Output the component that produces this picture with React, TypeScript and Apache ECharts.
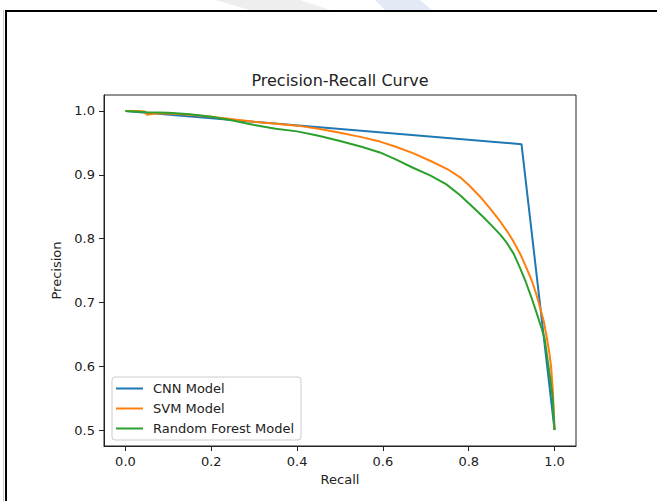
import React, { useEffect, useRef } from "react";
import * as echarts from "echarts";

const cnnRecall = [0.0, 0.923, 1.0];
const cnnPrecision = [1.0, 0.948, 0.5];

const svmRecall = [0.0, 0.03, 0.045, 0.05, 0.07, 0.1, 0.15, 0.2, 0.25, 0.3, 0.35, 0.4, 0.45, 0.5, 0.55, 0.593, 0.63, 0.67, 0.71, 0.75, 0.78, 0.8, 0.826, 0.85, 0.872, 0.89, 0.903, 0.92, 0.934, 0.947, 0.957, 0.967, 0.975, 0.982, 0.988, 0.992, 0.996, 1.0];
const svmPrecision = [1.0, 1.0, 0.999, 0.994, 0.996, 0.996, 0.994, 0.991, 0.987, 0.983, 0.98, 0.977, 0.972, 0.966, 0.959, 0.952, 0.944, 0.934, 0.922, 0.909, 0.896, 0.884, 0.866, 0.847, 0.828, 0.811, 0.797, 0.776, 0.755, 0.734, 0.714, 0.69, 0.67, 0.645, 0.62, 0.599, 0.562, 0.5];

const rfRecall = [0.0, 0.05, 0.1, 0.15, 0.2, 0.25, 0.3, 0.35, 0.4, 0.45, 0.5, 0.55, 0.593, 0.63, 0.67, 0.71, 0.748, 0.78, 0.81, 0.835, 0.857, 0.875, 0.888, 0.905, 0.919, 0.933, 0.946, 0.958, 0.969, 0.977, 0.984, 0.99, 0.996, 1.0];
const rfPrecision = [1.0, 0.998, 0.997, 0.995, 0.991, 0.985, 0.978, 0.972, 0.968, 0.961, 0.953, 0.944, 0.935, 0.924, 0.911, 0.899, 0.885, 0.868, 0.849, 0.833, 0.818, 0.805, 0.794, 0.776, 0.755, 0.732, 0.708, 0.684, 0.661, 0.643, 0.609, 0.58, 0.547, 0.5];

const xTicks = [0.0, 0.2, 0.4, 0.6, 0.8, 1.0];
const yTicks = [0.5, 0.6, 0.7, 0.8, 0.9, 1.0];

const seriesNames = ["CNN Model", "SVM Model", "Random Forest Model"];
const colors = ["#1f77b4", "#ff7f0e", "#2ca02c"];

const pairs = (xs: number[], ys: number[]) => xs.map((x, i) => [x, ys[i]]);

export default function App() {
  const ref = useRef<HTMLDivElement>(null);
  useEffect(() => {
    document.body.style.margin = "0";
    const chart = echarts.init(ref.current!, null, { renderer: "svg" });
    const font = "DejaVu Sans";
    const txt = "#222";
    const axisCommon = {
      type: "value" as const,
      splitLine: { show: false },
      axisLine: { show: true, onZero: false, lineStyle: { color: "#222", width: 1 } },
      axisTick: { show: true, inside: false, length: 5, lineStyle: { color: "#222", width: 1 } },
      axisLabel: { color: txt, fontFamily: font, fontSize: 13, margin: 9, formatter: (v: number) => v.toFixed(1) },
      nameTextStyle: { color: txt, fontFamily: font, fontSize: 13 },
    };
    chart.setOption({
      animation: false,
      backgroundColor: "#ffffff",
      color: colors,
      title: {
        text: "Precision-Recall Curve",
        left: 340,
        top: 72,
        padding: 0,
        textAlign: "center",
        textStyle: { color: txt, fontFamily: font, fontSize: 16, fontWeight: "normal" },
      },
      grid: { left: 104, top: 95, right: 81, bottom: 55, show: true, borderColor: "#222", borderWidth: 1, backgroundColor: "transparent" },
      xAxis: {
        ...axisCommon,
        min: -0.05,
        max: 1.05,
        name: "Recall",
        nameLocation: "middle",
        nameGap: 25,
        axisTick: { ...axisCommon.axisTick, customValues: xTicks },
        axisLabel: { ...axisCommon.axisLabel, customValues: xTicks },
      },
      yAxis: {
        ...axisCommon,
        min: 0.475,
        max: 1.025,
        name: "Precision",
        nameLocation: "middle",
        nameGap: 31,
        axisTick: { ...axisCommon.axisTick, customValues: yTicks },
        axisLabel: { ...axisCommon.axisLabel, customValues: yTicks },
      },
      legend: {
        orient: "vertical",
        left: 112,
        top: 377,
        icon: "rect",
        itemWidth: 27,
        itemHeight: 2,
        itemGap: 5,
        padding: [4, 7, 4, 4],
        backgroundColor: "rgba(255,255,255,0.8)",
        borderColor: "#cccccc",
        borderWidth: 1,
        borderRadius: 3,
        textStyle: { color: txt, fontFamily: font, fontSize: 13, lineHeight: 15, padding: [0, 0, 0, 5] },
        data: seriesNames,
      },
      series: [
        { name: seriesNames[0], type: "line", data: pairs(cnnRecall, cnnPrecision), showSymbol: false, symbol: "none", lineStyle: { width: 2, color: colors[0] }, itemStyle: { color: colors[0] } },
        { name: seriesNames[1], type: "line", data: pairs(svmRecall, svmPrecision), showSymbol: false, symbol: "none", lineStyle: { width: 2, color: colors[1] }, itemStyle: { color: colors[1] } },
        { name: seriesNames[2], type: "line", data: pairs(rfRecall, rfPrecision), showSymbol: false, symbol: "none", lineStyle: { width: 2, color: colors[2] }, itemStyle: { color: colors[2] } },
      ],
      graphic: [
        { type: "polygon", shape: { points: [[215, 0], [300, 0], [330, 10], [250, 10]] }, style: { fill: "#eeeeee" }, silent: true },
        { type: "polygon", shape: { points: [[375, 0], [420, 0], [432, 10], [385, 10]] }, style: { fill: "#e3eaf6" }, silent: true },
        { type: "rect", shape: { x: 5, y: 10, width: 652, height: 2 }, style: { fill: "#000" }, silent: true },
        { type: "rect", shape: { x: 5, y: 10, width: 2, height: 491 }, style: { fill: "#000" }, silent: true },
        { type: "rect", shape: { x: 3, y: 10, width: 1, height: 491 }, style: { fill: "#cccccc" }, silent: true },
      ],
    });
    return () => chart.dispose();
  }, []);
  return <div ref={ref} style={{ width: 657, height: 501 }} />;
}
